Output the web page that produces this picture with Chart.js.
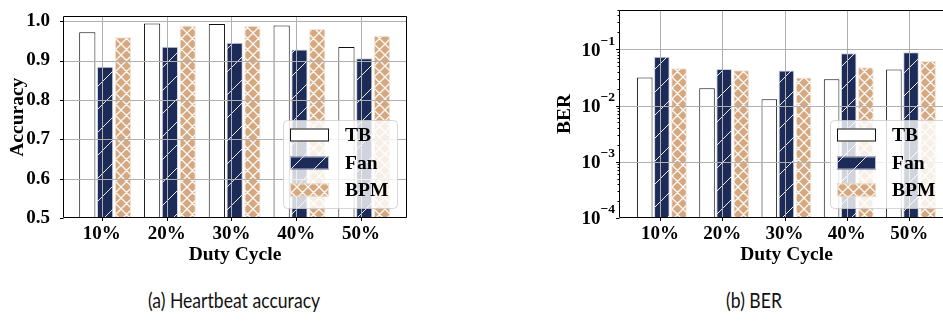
<!DOCTYPE html>
<html><head><meta charset="utf-8">
<script src="https://cdn.jsdelivr.net/npm/chart.js@4/dist/chart.umd.min.js"></script>
<style>
html,body{margin:0;padding:0;background:#fff;overflow:hidden;width:943px;height:322px;}
#wrapA{position:absolute;left:0;top:0;width:430px;height:275px;}
#wrapB{position:absolute;left:540px;top:0;width:430px;height:275px;}
.cap{position:absolute;top:286px;font-family:Lato,"Open Sans",sans-serif;font-size:22px;color:#111;white-space:nowrap;transform:translateX(-50%) scaleX(0.8);}
</style></head>
<body>
<div id="wrapA"><canvas id="cA" width="430" height="275"></canvas></div>
<div id="wrapB"><canvas id="cB" width="430" height="275"></canvas></div>
<div class="cap" style="left:234px">(a) Heartbeat accuracy</div>
<div class="cap" style="left:754px">(b) BER</div>
<script>
const categories = ['10%','20%','30%','40%','50%'];
const seriesNames = ['TB','Fan','BPM'];
const accTB  = [0.972,0.994,0.993,0.989,0.934];
const accFan = [0.884,0.935,0.945,0.928,0.906];
const accBPM = [0.959,0.989,0.988,0.980,0.963];
const berTB  = [0.0314,0.0203,0.0129,0.0293,0.0436];
const berFan = [0.074,0.0448,0.0418,0.085,0.0885];
const berBPM = [0.046,0.0424,0.0314,0.0479,0.062];
const accTicks = [0.5,0.6,0.7,0.8,0.9,1.0];
const berTicks = [1e-4,1e-3,1e-2,1e-1];

const NAVY = '#1c2b58';
const TAN = '#d5a880';
const SERIF = '"Liberation Serif","Times New Roman",serif';

function patFan(){
  const s=23, c=document.createElement('canvas'); c.width=s; c.height=s;
  const g=c.getContext('2d'); g.fillStyle=NAVY; g.fillRect(0,0,s,s);
  g.strokeStyle='rgba(255,255,255,0.92)'; g.lineWidth=1;
  g.beginPath(); for(let k=-1;k<=1;k++){g.moveTo(k*s,s);g.lineTo(k*s+s,0);} g.stroke();
  return g.createPattern(c,'repeat');
}
function patBPM(){
  const s=11, c=document.createElement('canvas'); c.width=s; c.height=s;
  const g=c.getContext('2d'); g.fillStyle=TAN; g.fillRect(0,0,s,s);
  g.strokeStyle='rgba(255,255,255,0.95)'; g.lineWidth=1.3;
  g.beginPath();
  for(let k=-1;k<=1;k++){g.moveTo(k*s,s);g.lineTo(k*s+s,0);g.moveTo(k*s,0);g.lineTo(k*s+s,s);}
  g.stroke();
  return g.createPattern(c,'repeat');
}
const styles = [
  {bg:'#ffffff', border:'#111111'},
  {bg:patFan(), border:'rgba(200,206,222,0.9)'},
  {bg:patBPM(), border:'rgba(240,225,208,0.9)'}
];

function mkDatasets(vals, shift){
  return vals.map((arr,k)=>({
    label: seriesNames[k],
    data: arr.map((v,i)=>({x:i+shift,y:v})),
    backgroundColor: styles[k].bg,
    borderColor: styles[k].border,
    borderWidth: 1,
    categoryPercentage: 0.825,
    barPercentage: 0.91
  }));
}

const mplPlugin = {
  id:'mpl',
  afterDatasetsDraw(chart){
    const o = chart.options.plugins.mpl; if(!o) return;
    const {ctx, chartArea:a} = chart; const xs=chart.scales.x, ys=chart.scales.y;
    ctx.save();
    ctx.strokeStyle='#b0b0b0'; ctx.lineWidth=1;
    ctx.beginPath();
    for(let i=0;i<categories.length;i++){
      const px=Math.round(xs.getPixelForValue(i))+0.5;
      ctx.moveTo(px,a.top); ctx.lineTo(px,a.bottom);
    }
    o.yTicks.forEach(v=>{
      const py=Math.round(ys.getPixelForValue(v))+0.5;
      if(py>a.top+1 && py<a.bottom-1){ctx.moveTo(a.left,py); ctx.lineTo(a.right,py);}
    });
    ctx.stroke();
    ctx.strokeStyle='#000'; ctx.lineWidth=1;
    const L=Math.round(a.left)+0.5, R=Math.round(a.right)-0.5, T=Math.round(a.top)+0.5, B=Math.round(a.bottom)-0.5;
    ctx.beginPath();
    ctx.moveTo(L,T); ctx.lineTo(L,B); ctx.lineTo(R,B);
    ctx.moveTo(L,T); ctx.lineTo(R,T);
    if(o.rightSpine){ctx.moveTo(R,T);ctx.lineTo(R,B);}
    ctx.stroke();
    ctx.beginPath();
    for(let i=0;i<categories.length;i++){
      const px=Math.round(xs.getPixelForValue(i))+0.5;
      ctx.moveTo(px,B); ctx.lineTo(px,B+3.5);
    }
    o.yTicks.forEach(v=>{
      const py=Math.round(ys.getPixelForValue(v))+0.5;
      ctx.moveTo(L,py); ctx.lineTo(L-3.5,py);
    });
    if(o.log){
      for(let e=-4;e<0;e++){
        for(let m=2;m<=9;m++){
          const v=m*Math.pow(10,e); if(v>ys.max) continue;
          const py=Math.round(ys.getPixelForValue(v))+0.5;
          ctx.moveTo(L,py); ctx.lineTo(L-2,py);
        }
      }
    }
    ctx.stroke();
    if(o.log){
      ctx.fillStyle='#000'; ctx.textBaseline='middle';
      o.yTicks.forEach(v=>{
        const py=ys.getPixelForValue(v);
        const ex='\u2212'+Math.round(-Math.log10(v));
        ctx.font='bold 13.5px '+SERIF; const we=ctx.measureText(ex).width;
        ctx.font='bold 19px '+SERIF; const wb=ctx.measureText('10').width;
        const xe=L-4.5;
        ctx.textAlign='left';
        ctx.fillText('10', xe-we-wb, py+1.5);
        ctx.font='bold 13.5px '+SERIF;
        ctx.fillText(ex, xe-we, py-8);
      });
    }
    const lg=o.legend;
    ctx.beginPath();
    if(ctx.roundRect) ctx.roundRect(lg.x+0.5,lg.y+0.5,lg.w,lg.h,4); else ctx.rect(lg.x+0.5,lg.y+0.5,lg.w,lg.h);
    ctx.fillStyle='rgba(255,255,255,0.8)'; ctx.fill();
    ctx.strokeStyle='rgba(204,204,204,0.8)'; ctx.lineWidth=1; ctx.stroke();
    seriesNames.forEach((n,k)=>{
      const cy=lg.rowY[k];
      const hx=lg.hx, hw=39, hh=13;
      ctx.fillStyle=styles[k].bg; ctx.fillRect(hx,cy-hh/2,hw,hh);
      ctx.strokeStyle=styles[k].border; ctx.lineWidth=1; ctx.strokeRect(hx+0.5,cy-hh/2+0.5,hw-1,hh-1);
      ctx.fillStyle='#000'; ctx.font='bold 19.5px '+SERIF; ctx.textAlign='left'; ctx.textBaseline='middle';
      ctx.fillText(n, lg.tx, cy+1);
    });
    ctx.restore();
  },
  afterDraw(chart){
    const o = chart.options.plugins.mpl; if(!o) return;
    const {ctx, chartArea:a} = chart;
    ctx.save(); ctx.fillStyle='#000'; ctx.font='bold 19.5px '+SERIF;
    ctx.textAlign='center'; ctx.textBaseline='middle';
    ctx.fillText('Duty Cycle',(a.left+a.right)/2+o.xTitleShift,255);
    ctx.translate(o.yTitleX,(a.top+a.bottom)/2); ctx.rotate(-Math.PI/2);
    ctx.fillText(o.yTitle,0,0);
    ctx.restore();
  }
};

function makeChart(id, vals, shift, yScale, mpl, xmin, xmax, padRight){
  return new Chart(document.getElementById(id), {
    type:'bar',
    data:{datasets:mkDatasets(vals, shift)},
    plugins:[mplPlugin],
    options:{
      responsive:false, animation:false,
      layout:{padding:{top:10,right:padRight,left:0,bottom:0}},
      plugins:{legend:{display:false}, tooltip:{enabled:false}, mpl:mpl},
      scales:{
        x:{type:'linear', min:xmin, max:xmax, offset:false,
           grid:{display:false}, border:{display:false},
           afterBuildTicks:s=>{s.ticks=categories.map((c,i)=>({value:i}));},
           afterFit:s=>{s.height=275-218;},
           ticks:{padding:-3, color:'#000', font:{family:SERIF,size:19,weight:'bold'},
                  callback:v=>categories[v]}},
        y:yScale
      }
    }
  });
}

makeChart('cA',[accTB,accFan,accBPM],0.05,{
  type:'linear', min:0.5, max:1.012,
  grid:{display:false}, border:{display:false},
  afterBuildTicks:s=>{s.ticks=accTicks.map(v=>({value:v}));},
  afterFit:s=>{s.width=63;},
  ticks:{padding:5,color:'#000',font:{family:SERIF,size:19,weight:'bold'},callback:v=>v.toFixed(1)}
},{yTicks:accTicks, rightSpine:true, log:false, yTitle:'Accuracy', yTitleX:18, xTitleShift:0,
   legend:{x:283,y:120,w:114,h:88,hx:290,tx:345,rowY:[135,163,190]}},
 -0.6, 4.71, 23);

makeChart('cB',[berTB,berFan,berBPM],0.03,{
  type:'logarithmic', min:1e-4, max:0.5,
  grid:{display:false}, border:{display:false},
  afterBuildTicks:s=>{s.ticks=berTicks.map(v=>({value:v}));},
  afterFit:s=>{s.width=79;},
  ticks:{display:false}
},{yTicks:berTicks, rightSpine:false, log:true, yTitle:'BER', yTitleX:25, xTitleShift:0,
   legend:{x:290,y:120,w:130,h:88,hx:297,tx:352,rowY:[135,163,190]}},
 -0.658, 4.72, 16);
</script>
</body></html>
